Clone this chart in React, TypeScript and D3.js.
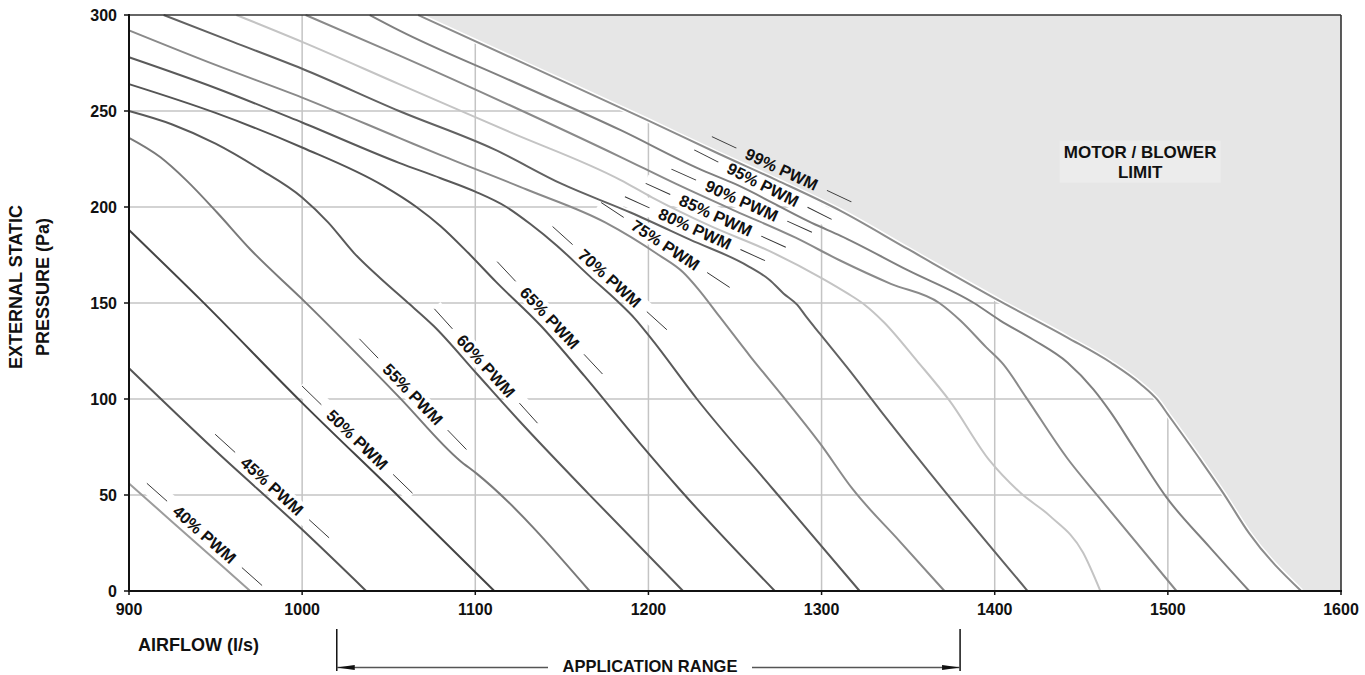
import React from 'react'
import * as d3 from 'd3'

const W = 1365
const H = 675
const margin = { left: 129, right: 24, top: 15, bottom: 84 }

// fan curves: [airflow (l/s), external static pressure (Pa)]
const pwm40 = [[900, 56], [935, 28], [970, 0]]
const pwm45 = [[900, 116], [950, 73], [1000, 32], [1037, 0]]
const pwm50 = [[900, 188], [941, 152], [1000, 98], [1056, 49], [1111, 0]]
const pwm55 = [[900, 236], [918, 226], [933, 214], [951, 197], [970, 178], [1000, 152], [1056, 101], [1091, 68], [1101, 61], [1166, 0]]
const pwm60 = [[900, 250], [925, 243], [950, 233], [975, 220], [1000, 205], [1015, 192], [1030, 176], [1045, 163], [1060, 151], [1076, 138], [1101, 113], [1126, 88], [1165, 51], [1220, 0]]
const pwm65 = [[900, 264], [950, 249], [1000, 231], [1047, 211], [1066, 200], [1080, 190], [1096, 176], [1112, 161], [1138, 138], [1163, 112], [1195, 77], [1218, 53], [1273, 0]]
const pwm70 = [[900, 278], [950, 262], [1000, 244], [1056, 223], [1080, 215], [1100, 208], [1118, 200], [1132, 191], [1147, 180], [1166, 164], [1182, 151], [1192, 142], [1202, 131], [1228, 100], [1272, 53], [1322, 0]]
const pwm75 = [[900, 292], [950, 274], [1000, 257], [1056, 236], [1080, 227], [1130, 209], [1175, 192], [1206, 175], [1220, 166], [1229, 157], [1241, 143], [1259, 122], [1278, 101], [1299, 77], [1318, 53], [1345, 26], [1371, 0]]
const pwm80 = [[920, 300], [960, 286], [1000, 272], [1056, 250], [1111, 230], [1150, 212], [1190, 197], [1224, 183], [1258, 169], [1270, 162], [1278, 155], [1286, 149], [1291, 143], [1299, 134], [1316, 115], [1334, 94], [1372, 51], [1419, 0]]
const pwm85 = [[962, 300], [1000, 286], [1056, 264], [1120, 239], [1184, 214], [1202, 205], [1236, 190], [1270, 177], [1300, 163], [1315, 155], [1325, 149], [1336, 140], [1355, 120], [1374, 99], [1397, 68], [1415, 51], [1432, 39], [1451, 20], [1461, 0]]
const pwm90 = [[1002, 300], [1056, 279], [1120, 253], [1184, 226], [1216, 212], [1250, 198], [1285, 184], [1311, 172], [1340, 160], [1368, 150], [1380, 141], [1395, 127], [1405, 118], [1418, 101], [1442, 69], [1460, 49], [1505, 0]]
const pwm95 = [[1039, 300], [1056, 292], [1120, 266], [1184, 240], [1229, 220], [1250, 212], [1296, 191], [1311, 185], [1350, 167], [1388, 150], [1403, 141], [1422, 131], [1442, 119], [1457, 105], [1467, 93], [1480, 75], [1499, 49], [1524, 23], [1547, 0]]
const pwm99 = [[1067, 300], [1130, 274], [1200, 245], [1240, 228], [1274, 214], [1311, 198], [1350, 178], [1403, 151], [1442, 132], [1467, 119], [1484, 108], [1494, 99.5], [1500, 92], [1519, 68], [1532, 51], [1547, 30], [1577, 0]]

const pwmNames = ['40% PWM', '45% PWM', '50% PWM', '55% PWM', '60% PWM', '65% PWM', '70% PWM', '75% PWM', '80% PWM', '85% PWM', '90% PWM', '95% PWM', '99% PWM']
const pwmCurves = [pwm40, pwm45, pwm50, pwm55, pwm60, pwm65, pwm70, pwm75, pwm80, pwm85, pwm90, pwm95, pwm99]
const curveColors = ['#9c9c9c', '#555', '#444', '#7a7a7a', '#5a5a5a', '#555', '#5a5a5a', '#8a8a8a', '#626262', '#c4c4c4', '#8a8a8a', '#808080', '#8c8c8c']
// where along each curve (airflow) its label sits
const labelAt = [939, 978, 1027, 1059, 1101, 1138, 1173, 1206, 1224, 1236, 1251, 1263, 1274]

const xTicks = [900, 1000, 1100, 1200, 1300, 1400, 1500, 1600]
const yTicks = [0, 50, 100, 150, 200, 250, 300]
const xGrid = [1000, 1100, 1200, 1300, 1400, 1500]
const yGrid = [50, 100, 150, 200, 250]
const applicationRange = [1020, 1380]

const FONT = '"Liberation Sans", Arial, Helvetica, sans-serif'

const x = d3.scaleLinear().domain([900, 1600]).range([margin.left, W - margin.right])
const y = d3.scaleLinear().domain([0, 300]).range([H - margin.bottom, margin.top])

const line = d3.line<number[]>().x(d => x(d[0])).y(d => y(d[1])).curve(d3.curveMonotoneX)

function interp(pts: number[][], ax: number) {
  for (let i = 0; i < pts.length - 1; i++) {
    const a = pts[i], b = pts[i + 1]
    if (ax >= a[0] && ax <= b[0]) return a[1] + (b[1] - a[1]) * (ax - a[0]) / (b[0] - a[0])
  }
  return ax < pts[0][0] ? pts[0][1] : pts[pts.length - 1][1]
}

function labelGeom(pts: number[][], ax: number) {
  const px = x(ax), py = y(interp(pts, ax))
  const ax0 = x(ax - 8), ay0 = y(interp(pts, ax - 8))
  const ax1 = x(ax + 8), ay1 = y(interp(pts, ax + 8))
  const ang = Math.atan2(ay1 - ay0, ax1 - ax0)
  const off = 12
  return { cx: px + Math.sin(ang) * off, cy: py - Math.cos(ang) * off, deg: ang * 180 / Math.PI }
}

const textHalf = 39
const gap = 11
const dash = 27

export default function App() {
  const x0 = x(900), x1 = x(1600), y0 = y(0), y1 = y(300)
  const limitPath = line(pwm99) + `L${x(1600)},${y(0)}L${x(1600)},${y(300)}Z`
  const labels = pwmCurves.map((pts, i) => ({ ...labelGeom(pts, labelAt[i]), name: pwmNames[i] }))
  const mx = x(1484), my = y(222)
  const arrowY = 667.5
  const ar0 = x(applicationRange[0]), ar1 = x(applicationRange[1])
  const arMid = 650

  return (
    <svg width={W} height={H} style={{ position: 'absolute', left: 0, top: 0, background: '#fff' }} fontFamily={FONT}>
      {/* grid */}
      {xGrid.map(v => (
        <line key={'gx' + v} x1={x(v)} x2={x(v)} y1={y1} y2={y0} stroke="#c4c4c4" strokeWidth={1.5} />
      ))}
      {yGrid.map(v => (
        <line key={'gy' + v} x1={x0} x2={x1} y1={y(v)} y2={y(v)} stroke="#c4c4c4" strokeWidth={1.5} />
      ))}

      {/* white boxes behind labels */}
      {labels.map(l => (
        <rect key={'bg' + l.name} transform={`translate(${l.cx},${l.cy}) rotate(${l.deg})`}
          x={-(textHalf + gap + dash) - 1} y={-9} width={2 * (textHalf + gap + dash) + 2} height={18} fill="#fff" />
      ))}

      {/* motor / blower limit region */}
      <path d={limitPath} fill="#e6e6e6" stroke="none" />
      <path d={line(pwm99) || ''} fill="none" stroke="#fff" strokeWidth={5} />

      {/* curves */}
      {pwmCurves.map((pts, i) => (
        <path key={pwmNames[i]} d={line(pts) || ''} fill="none" stroke={curveColors[i]} strokeWidth={2} strokeLinejoin="round" />
      ))}

      {/* curve labels */}
      {labels.map(l => (
        <g key={'lb' + l.name} transform={`translate(${l.cx},${l.cy}) rotate(${l.deg})`}>
          <line x1={-(textHalf + gap + dash)} x2={-(textHalf + gap)} y1={0} y2={0} stroke="#333" strokeWidth={0.9} />
          <line x1={textHalf + gap} x2={textHalf + gap + dash} y1={0} y2={0} stroke="#333" strokeWidth={0.9} />
          <text x={0} y={0} dy="0.36em" textAnchor="middle" fontSize={16.5} fontWeight="bold" fill="#111">{l.name}</text>
        </g>
      ))}

      <rect x={mx - 80.5} y={my - 24} width={161} height={42} fill="#ececec" />
      <text x={mx} y={my - 7} textAnchor="middle" fontSize={17} fontWeight="bold" fill="#111">MOTOR / BLOWER</text>
      <text x={mx} y={my + 13} textAnchor="middle" fontSize={17} fontWeight="bold" fill="#111">LIMIT</text>

      {/* frame */}
      <line x1={x0} x2={x1} y1={y1} y2={y1} stroke="#333" strokeWidth={1.6} />
      <line x1={x1} x2={x1} y1={y1} y2={y0} stroke="#333" strokeWidth={1.6} />
      <line x1={x0} x2={x0} y1={y1 - 1} y2={y0 + 1} stroke="#111" strokeWidth={2} />
      <line x1={x0 - 1} x2={x1 + 1} y1={y0} y2={y0} stroke="#111" strokeWidth={2} />

      {/* ticks */}
      {yTicks.map(v => (
        <g key={'yt' + v}>
          <line x1={x0 - 5} x2={x0} y1={y(v)} y2={y(v)} stroke="#111" strokeWidth={1.5} />
          <text x={x0 - 12} y={y(v)} dy="0.36em" textAnchor="end" fontSize={16} fontWeight="bold" fill="#111">{v}</text>
        </g>
      ))}
      {xTicks.map(v => (
        <g key={'xt' + v}>
          <line x1={x(v)} x2={x(v)} y1={y0} y2={y0 + 4} stroke="#111" strokeWidth={1.5} />
          <text x={x(v)} y={y0 + 24} textAnchor="middle" fontSize={16} fontWeight="bold" fill="#111">{v}</text>
        </g>
      ))}

      {/* axis titles */}
      <text transform="translate(22,287) rotate(-90)" textAnchor="middle" fontSize={18} fontWeight="bold" fill="#111">EXTERNAL STATIC</text>
      <text transform="translate(49,287) rotate(-90)" textAnchor="middle" fontSize={18} fontWeight="bold" fill="#111">PRESSURE (Pa)</text>
      <text x={138} y={651} fontSize={18} fontWeight="bold" fill="#111">AIRFLOW (l/s)</text>

      {/* application range */}
      <line x1={ar0} x2={ar0} y1={629} y2={671} stroke="#111" strokeWidth={1.5} />
      <line x1={ar1} x2={ar1} y1={629} y2={671} stroke="#111" strokeWidth={1.5} />
      <line x1={ar0} x2={arMid - 102} y1={arrowY} y2={arrowY} stroke="#555" strokeWidth={1.5} />
      <line x1={arMid + 102} x2={ar1} y1={arrowY} y2={arrowY} stroke="#555" strokeWidth={1.5} />
      <path d={`M${ar0},${arrowY}L${ar0 + 18},${arrowY - 2.5}L${ar0 + 18},${arrowY + 2.5}Z`} fill="#111" />
      <path d={`M${ar1},${arrowY}L${ar1 - 18},${arrowY - 2.5}L${ar1 - 18},${arrowY + 2.5}Z`} fill="#111" />
      <text x={arMid} y={672} textAnchor="middle" fontSize={16.5} fontWeight="bold" fill="#111">APPLICATION RANGE</text>
    </svg>
  )
}
